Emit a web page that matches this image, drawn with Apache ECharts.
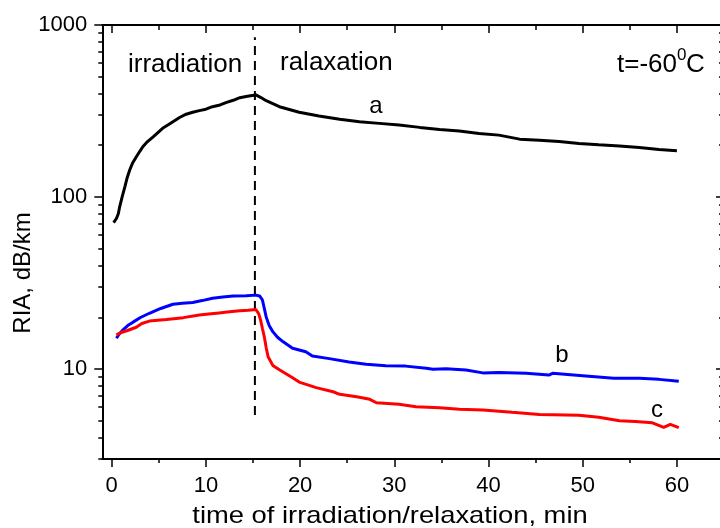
<!DOCTYPE html>
<html>
<head>
<meta charset="utf-8">
<script src="https://cdn.jsdelivr.net/npm/echarts@6/dist/echarts.min.js"></script>
<style>
html,body{margin:0;padding:0;background:#fff;}
#chart{width:720px;height:528px;}
</style>
</head>
<body>
<div id="chart"></div>
<script>
// ---- data ----
const xA = [0.2,0.5,0.7,0.85,1.1,1.4,1.65,1.9,2.2,2.6,3.0,3.3,3.8,4.4,5.4,6.0,6.5,7.2,7.9,8.6,9.3,10.0,10.7,11.5,12.2,12.9,13.6,14.4,15.3,15.8,16.4,17.8,19.9,22.0,24.2,26.3,28.4,30.5,32.7,34.8,36.9,39.0,41.1,43.3,45.4,47.5,49.6,51.7,53.9,56.0,58.1,60.0];
const yA = [71,75,80,88,100,115,130,143,157,171,185,196,210,224,251,263,274,290,303,311,318,324,335,343,355,365,378,385,392,380,363,335,311,296,283,274,268,262,254,247,242,234,229,217,214,210,205,201,198,194,189,186];

const xB = [0.5,0.8,1.2,1.7,2.3,3.1,4.0,5.2,6.5,7.5,8.6,9.6,10.7,11.8,12.9,14.3,15.3,15.7,16.0,16.2,16.4,16.7,17.1,17.6,18.2,19.2,20.6,21.3,23.1,25.2,27.0,29.1,31.2,33.4,34.1,35.5,37.6,39.4,41.1,44.0,46.4,46.8,50.0,53.3,56.0,58.1,60.2];
const yB = [15.1,16.0,16.9,17.9,18.8,20.0,21.1,22.5,23.8,24.1,24.4,25.0,25.8,26.2,26.6,26.7,26.9,26.6,25.2,22.5,20.1,18.0,16.5,15.3,14.4,13.2,12.6,11.9,11.5,11.0,10.65,10.45,10.4,10.1,9.96,10.04,9.87,9.5,9.55,9.44,9.23,9.44,9.14,8.83,8.83,8.71,8.49];

const xC = [0.5,1.0,1.6,2.6,3.2,4.0,5.8,7.6,9.3,10.3,11.4,12.5,13.6,14.5,15.3,15.6,15.8,16.0,16.2,16.4,16.6,17.1,17.8,18.5,19.2,19.9,21.7,23.5,24.2,26.0,27.4,28.1,30.5,32.3,34.8,36.9,39.4,42.5,45.4,49.6,51.7,53.9,55.6,57.4,58.6,59.3,60.2];
const yC = [15.8,16.3,16.7,17.5,18.4,19.0,19.4,19.9,20.6,20.9,21.2,21.5,21.8,22.0,22.2,21.0,19.3,17.2,15.4,13.3,11.8,10.5,9.9,9.4,8.9,8.4,7.8,7.38,7.13,6.91,6.67,6.37,6.24,6.04,5.96,5.83,5.78,5.6,5.45,5.38,5.24,5.01,4.96,4.87,4.58,4.77,4.56];

const dashX = 15.2;
const dashY = [5.4, 850];

const xMajorTicks = [0,10,20,30,40,50,60];
const xMinorTicks = [5,15,25,35,45,55,65];
const yMajorTicks = [10,100,1000];
const yMinorTicks = [3,4,5,6,7,8,9,20,30,40,50,60,70,80,90,200,300,400,500,600,700,800,900];

const xRange = [-1, 65];
const yRange = [3, 1000];

const seriesNames = ['a','b','c'];
const seriesColors = ['#000000','#0000ff','#ff0000'];

// ---- chart ----
const FONT = '"Liberation Sans", Arial, Helvetica, sans-serif';
const zip = (xs, ys) => xs.map((x,i)=>[x, ys[i]]);
const chart = echarts.init(document.getElementById('chart'), null, {renderer:'canvas'});

const lineW = 2;
function xAx(position, ticks, len, inside, labels, showLine){
  return {
    type:'value', min:xRange[0], max:xRange[1], position:position,
    axisLine:{show:showLine, onZero:false, lineStyle:{color:'#000', width:lineW}},
    axisTick:{show:true, customValues:ticks, length:len, inside:inside, lineStyle:{color:'#000', width:1.5}},
    axisLabel:labels ? {show:true, customValues:ticks, fontSize:22, color:'#000', fontFamily:FONT, margin:16} : {show:false},
    splitLine:{show:false}, minorTick:{show:false}
  };
}
function yAx(position, ticks, len, inside, labels, showLine){
  return {
    type:'log', logBase:10, min:yRange[0], max:yRange[1], position:position,
    axisLine:{show:showLine, onZero:false, lineStyle:{color:'#000', width:lineW}},
    axisTick:{show:true, customValues:ticks, length:len, inside:inside, lineStyle:{color:'#000', width:1.5}},
    axisLabel:labels ? {show:true, customValues:ticks, fontSize:22, color:'#000', fontFamily:FONT, margin:15, formatter:(v)=>String(Math.round(v))} : {show:false},
    splitLine:{show:false}, minorTick:{show:false}
  };
}

const option = {
  backgroundColor:'#ffffff',
  animation:false,
  grid:{left:102.3, top:25, width:621.7, height:434, containLabel:false, outerBoundsMode:'none'},
  xAxis:[
    xAx('bottom', xMajorTicks, 8, false, true, true),
    xAx('bottom', xMinorTicks, 4, false, false, false),
    xAx('top', xMajorTicks, 8, true, false, true),
    xAx('top', xMinorTicks, 5, true, false, false)
  ],
  yAxis:[
    yAx('left', yMajorTicks, 8, false, true, true),
    yAx('left', yMinorTicks, 4, false, false, false),
    yAx('right', yMajorTicks, 8, true, false, true),
    yAx('right', yMinorTicks, 5, true, false, false)
  ],
  series:[
    {type:'line', name:'dash', data:[[dashX,dashY[0]],[dashX,dashY[1]]], showSymbol:false, symbol:'none',
     lineStyle:{color:'#000', width:2, type:[9,6]}, z:1},
    {type:'line', name:seriesNames[0], data:zip(xA,yA), showSymbol:false, symbol:'none', lineStyle:{color:seriesColors[0], width:3}, z:3},
    {type:'line', name:seriesNames[1], data:zip(xB,yB), showSymbol:false, symbol:'none', lineStyle:{color:seriesColors[1], width:3}, z:3},
    {type:'line', name:seriesNames[2], data:zip(xC,yC), showSymbol:false, symbol:'none', lineStyle:{color:seriesColors[2], width:3}, z:3}
  ],
  graphic:[
    {type:'text', left:128, top:52, style:{text:'irradiation', font:'26px '+FONT, fill:'#000'}},
    {type:'text', left:280, top:50, style:{text:'ralaxation', font:'26px '+FONT, fill:'#000'}},
    {type:'text', left:617, top:52, style:{text:'t=-60', font:'26px '+FONT, fill:'#000'}},
    {type:'text', left:677, top:47, style:{text:'0', font:'17px '+FONT, fill:'#000'}},
    {type:'text', left:686, top:52, style:{text:'C', font:'26px '+FONT, fill:'#000'}},
    {type:'text', x:376, y:106, style:{text:seriesNames[0], font:'24px '+FONT, fill:'#000', align:'center', verticalAlign:'middle'}},
    {type:'text', x:562, y:355, style:{text:seriesNames[1], font:'24px '+FONT, fill:'#000', align:'center', verticalAlign:'middle'}},
    {type:'text', x:657, y:410, style:{text:seriesNames[2], font:'24px '+FONT, fill:'#000', align:'center', verticalAlign:'middle'}},
    {type:'text', x:390, y:516, scaleX:1.14, originX:0, originY:0,
     style:{text:'time of irradiation/relaxation, min', font:'24px '+FONT, fill:'#000', align:'center', verticalAlign:'middle'}},
    {type:'text', x:23, y:273, rotation:Math.PI/2,
     style:{text:'RIA, dB/km', font:'24px '+FONT, fill:'#000', align:'center', verticalAlign:'middle'}}
  ]
};
chart.setOption(option);
</script>
</body>
</html>
